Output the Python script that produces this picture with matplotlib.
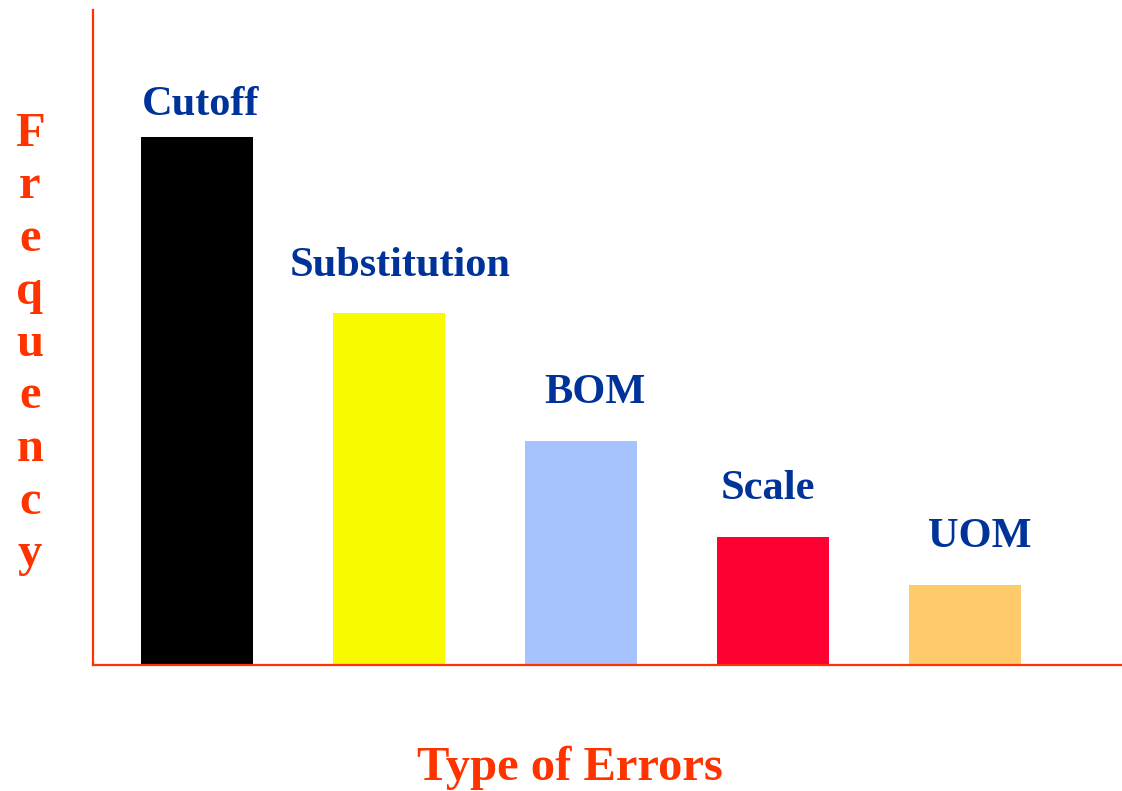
import matplotlib.pyplot as plt

# data
categories = ['Cutoff', 'Substitution', 'BOM', 'Scale', 'UOM']
frequency = [33, 22, 14, 8, 5]
bar_colors = ['#000000', '#F8FA00', '#A6C3FF', '#FF0033', '#FFCB6A']

# label placement (offset from bar centre / bar top, data units)
label_dx = [0.016, 0.057, 0.073, -0.026, 0.078]
label_dy = [1.375, 2.3, 2.375, 2.375, 2.375]

axis_color = '#FF3300'
text_color = '#003399'
font = 'Liberation Serif'

fig = plt.figure(figsize=(11.22, 7.91), dpi=100)
ax = fig.add_axes([93 / 1122, 126 / 791, 1029 / 1122, 655 / 791])

x = list(range(len(categories)))
ax.bar(x, frequency, width=0.583, color=bar_colors)

for i, name in enumerate(categories):
    ax.text(x[i] + label_dx[i], frequency[i] + label_dy[i], name,
            ha='center', va='baseline', fontsize=30.5, fontweight='bold',
            family=font, color=text_color)

ax.set_xlim(-0.542, 4.818)
ax.set_ylim(0, 655 / 16)

# only left and bottom axis lines, no ticks
for side in ['top', 'right']:
    ax.spines[side].set_visible(False)
for side in ['left', 'bottom']:
    ax.spines[side].set_color(axis_color)
    ax.spines[side].set_linewidth(1.6)
ax.set_xticks([])
ax.set_yticks([])

# stacked vertical y label
for k, ch in enumerate('Frequency'):
    fig.text(30 / 1122, 1 - (146 + k * 52.5) / 791, ch, ha='center',
             va='baseline', fontsize=35, fontweight='bold', family=font,
             color=axis_color)

# x axis title
fig.text(570 / 1122, 1 - 780 / 791, 'Type of Errors', ha='center',
         va='baseline', fontsize=35, fontweight='bold', family=font,
         color=axis_color)

plt.savefig('out.png', dpi=100)
